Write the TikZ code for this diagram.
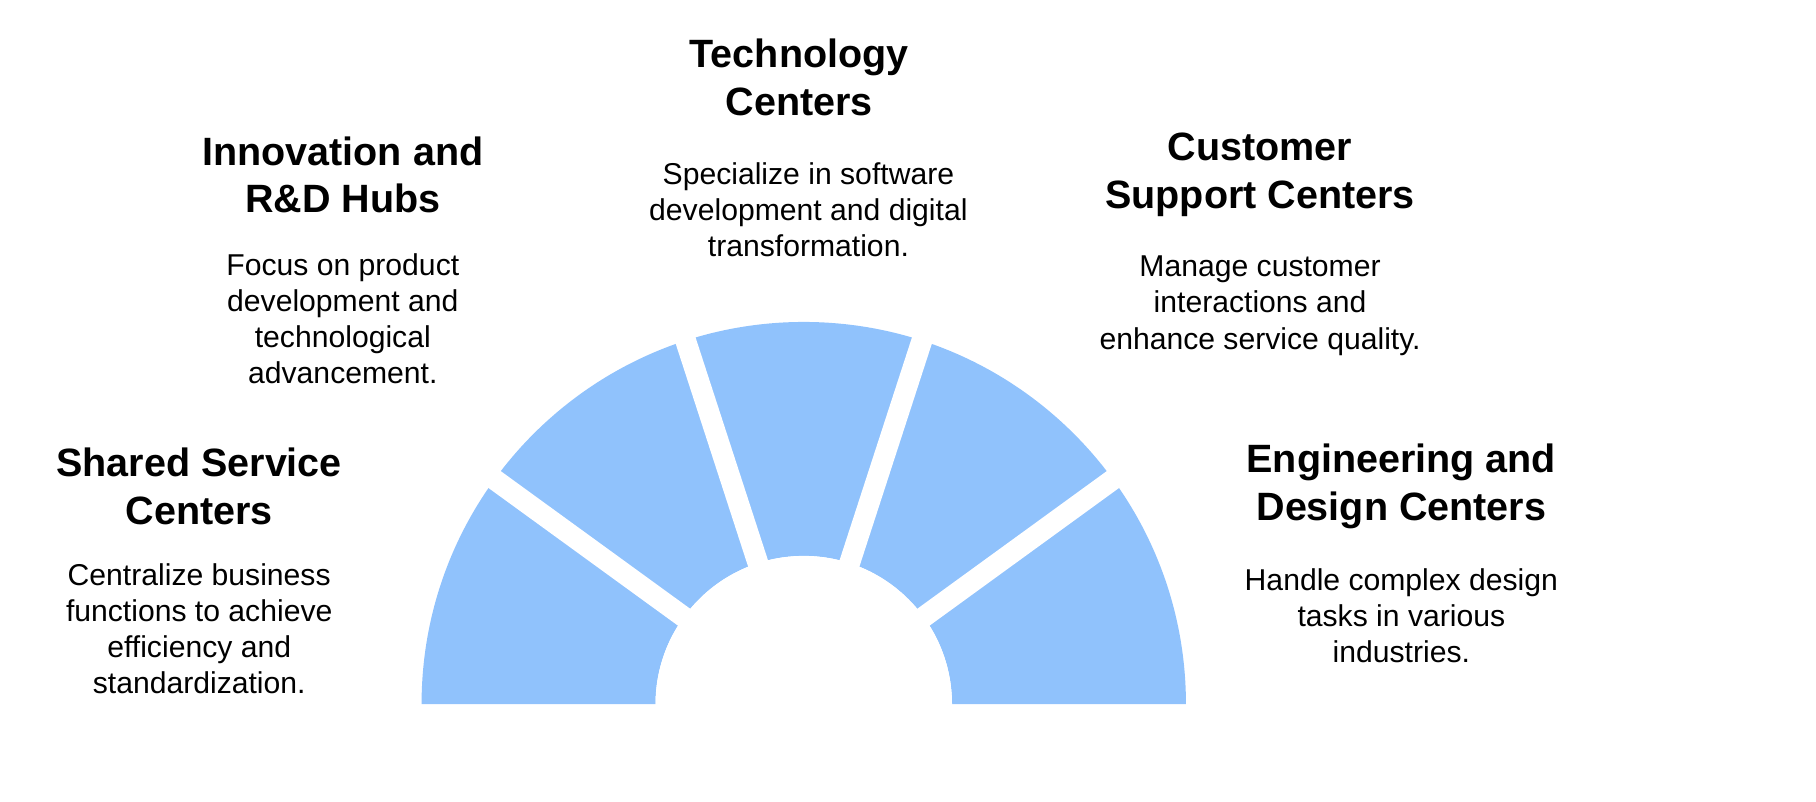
\documentclass[tikz,border=0pt]{standalone}
\usepackage{fontspec}
\setmainfont{Liberation Sans}
\definecolor{seg}{HTML}{90C2FC}
\begin{document}
\begin{tikzpicture}[x=0.01cm,y=-0.01cm,
  ttl/.style={align=center,font=\bfseries\fontsize{9.7}{11.7}\selectfont,inner sep=0},
  dsc/.style={align=center,font=\fontsize{7.4}{8.85}\selectfont,inner sep=0}]
\useasboundingbox (0,0) rectangle (1568,692);
\coordinate (c) at (694,608);
\fill[seg] (364,608) arc[start angle=180,end angle=0,x radius=330,y radius=-330] -- (822,608) arc[start angle=0,end angle=180,x radius=128,y radius=-128] -- cycle;
\foreach \a in {36,72,108,144}
  \draw[white,line width=0.18cm] (c) -- ({694+360*cos(\a)},{608-360*sin(\a)});
\fill[white] (c) circle[radius=128];
\node[ttl] (t1) at (172,420) {Shared Service\\Centers};
\node[dsc] (d1) at (172,543) {Centralize business\\functions to achieve\\efficiency and\\standardization.};
\node[ttl] (t2) at (296,151) {Innovation and\\R\&D Hubs};
\node[dsc] (d2) at (296,275) {Focus on product\\development and\\technological\\advancement.};
\node[ttl] (t3) at (690,67) {Technology\\Centers};
\node[dsc] (d3) at (698,181) {Specialize in software\\development and digital\\transformation.};
\node[ttl] (t4) at (1088,151) {Customer\\Support Centers};
\node[dsc] (d4) at (1088,264) {Manage customer\\interactions and\\enhance service quality.};
\node[ttl] (t5) at (1210,420) {Engineering and\\Design Centers};
\node[dsc] (d5) at (1210,532) {Handle complex design\\tasks in various\\industries.};
\end{tikzpicture}
\end{document}
